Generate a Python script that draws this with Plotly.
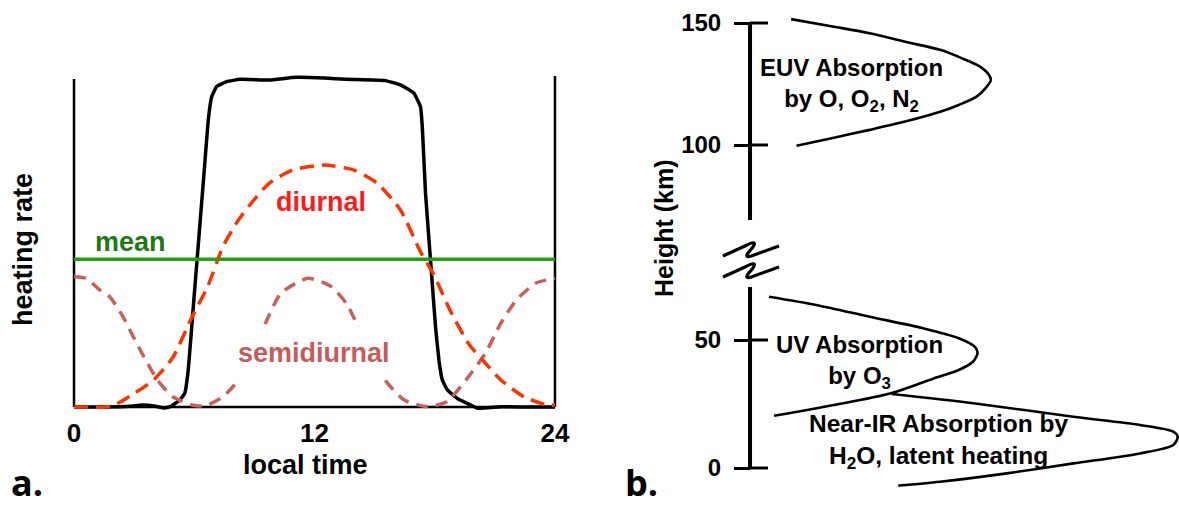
import plotly.graph_objects as go

W, H = 1179, 506

# ---------------- panel a: heating rate vs local time ----------------
hours_total = [0, 1.5, 2.8, 3.4, 4.0, 4.5, 4.8, 5.28, 5.53, 5.70, 5.94, 6.22, 6.50, 6.70,
               6.87, 7.12, 7.62, 8.29, 9.73, 11.09, 12.5, 13.59, 15.54, 16.29, 16.96, 17.29,
               17.38, 17.54, 17.79, 18.04, 18.21, 18.38, 18.63, 19.13, 19.80, 20.15, 21.3,
               22.5, 24]
heat_total = [0.0, 0.0, 0.002, 0.006, 0.003, -0.003, 0.001, 0.021, 0.042, 0.112, 0.294,
              0.506, 0.718, 0.870, 0.940, 0.971, 0.986, 0.993, 0.991, 0.999, 0.997, 0.993,
              0.989, 0.976, 0.951, 0.910, 0.849, 0.648, 0.445, 0.243, 0.142, 0.082, 0.052,
              0.026, 0.006, -0.004, 0.001, 0.0, 0.0]

hours_mean = [0, 24]
heat_mean = [0.448, 0.448]

hours_diurnal = [0, 0.5, 1.85, 3.0, 3.97, 4.93, 5.9, 6.67, 7.43, 8.21, 8.97, 9.74, 10.9,
                 12.44, 13.98, 15.13, 16.29, 17.29, 17.96, 18.79, 19.71, 20.5, 21.3, 22.45,
                 23.6, 24]
heat_diurnal = [0.0, 0.0, 0.002, 0.041, 0.082, 0.15, 0.274, 0.365, 0.486, 0.567, 0.627,
                0.678, 0.718, 0.733, 0.718, 0.678, 0.597, 0.47, 0.40, 0.29, 0.19, 0.135,
                0.082, 0.031, 0.006, 0.006]

hours_semi = [0, 0.61, 1.28, 1.78, 2.44, 2.96, 3.39, 4.16, 4.93, 5.9, 6.3, 6.67, 7.43, 8.21,
              8.9, 9.55, 10.33, 11.67, 12.83, 13.59, 13.98, 14.7, 15.52, 16.48, 17.64, 18.6,
              19.56, 20.53, 21.3, 22.07, 23.03, 24]
heat_semi = [0.395, 0.39, 0.355, 0.334, 0.274, 0.213, 0.163, 0.082, 0.031, 0.006, 0.003,
             0.006, 0.031, 0.082, 0.165, 0.254, 0.345, 0.39, 0.365, 0.314, 0.269, 0.175,
             0.082, 0.021, 0.001, 0.016, 0.082, 0.163, 0.254, 0.324, 0.375, 0.39]

time_ticks = [0, 12, 24]
time_ticktext = ["0", "12", "24"]

# ---------------- panel b: heating profiles vs height ----------------
euv_rate = [0.0958, 0.1956, 0.2788, 0.3618, 0.4450, 0.4946, 0.5361, 0.5571, 0.5613, 0.5487,
            0.5280, 0.4865, 0.4450, 0.3618, 0.2788, 0.1956, 0.1084]
euv_height = [151.6, 148.5, 145.8, 142.3, 138.9, 135.5, 132.1, 128.7, 126.6, 123.2, 119.8,
              116.4, 113.7, 109.6, 106.2, 103.0, 99.7]

uv_rate = [0.0443, 0.1538, 0.2788, 0.4033, 0.4865, 0.5238, 0.5305, 0.5196, 0.4865, 0.4282,
           0.3287, 0.1956, 0.0559]
uv_height = [66.9, 63.7, 59.1, 54.6, 50.7, 47.4, 45.0, 41.5, 38.3, 35.0, 29.2, 24.6, 20.4]

ir_rate = [0.3303, 0.5205, 0.7536, 0.9091, 0.9867, 0.997, 0.9867, 0.9091, 0.7536, 0.5984,
           0.4429, 0.3457]
ir_height = [28.9, 25.3, 20.0, 16.8, 14.2, 12.2, 9.0, 5.7, 1.8, -2.1, -5.4, -6.9]

low_ticks = [0, 50]
high_ticks = [100, 150]
low_span = [0, 70.7]
high_span = [69.3, 150]


def px(x):
    return x / W


def py(y):
    return (H - y) / H


BLACK = "#000000"
GREEN = "#22a014"
GREEN_TXT = "#1d7a12"
RED = "#ff3300"
RED_TXT = "#ff1a1a"
ROSE = "#c8605c"
ROSE_TXT = "#c45c5a"

SANS = "Liberation Sans"

fig = go.Figure()

# panel a traces: total heating first, the components drawn over it
fig.add_trace(go.Scatter(x=hours_total, y=heat_total, mode="lines",
                         line=dict(color=BLACK, width=3.5, shape="spline", smoothing=0.3),
                         xaxis="x", yaxis="y", hoverinfo="skip"))
fig.add_trace(go.Scatter(x=hours_semi, y=heat_semi, mode="lines",
                         line=dict(color=ROSE, width=3.5, dash="12px,8px", shape="spline", smoothing=0.6),
                         xaxis="x", yaxis="y", hoverinfo="skip"))
fig.add_trace(go.Scatter(x=hours_diurnal, y=heat_diurnal, mode="lines",
                         line=dict(color=RED, width=3.5, dash="14px,8px", shape="spline", smoothing=0.6),
                         xaxis="x", yaxis="y", hoverinfo="skip"))
fig.add_trace(go.Scatter(x=hours_mean, y=heat_mean, mode="lines",
                         line=dict(color=GREEN, width=3.5),
                         xaxis="x", yaxis="y", hoverinfo="skip"))

# panel b traces
for rate, height, ax in [(euv_rate, euv_height, "y3"), (uv_rate, uv_height, "y2"),
                         (ir_rate, ir_height, "y2")]:
    fig.add_trace(go.Scatter(x=rate, y=height, mode="lines",
                             line=dict(color=BLACK, width=2.6, shape="spline", smoothing=0.8),
                             xaxis="x2", yaxis=ax, hoverinfo="skip"))

shapes = []
# panel a frame: bottom, left and right edges
shapes.append(dict(type="line", xref="x", yref="y", x0=0, x1=24, y0=0, y1=0,
                   line=dict(color=BLACK, width=2.5), layer="below"))
shapes.append(dict(type="line", xref="x", yref="y", x0=0, x1=0, y0=0, y1=0.994,
                   line=dict(color=BLACK, width=2.5), layer="below"))
shapes.append(dict(type="line", xref="x", yref="y", x0=24, x1=24, y0=0, y1=1.003,
                   line=dict(color=BLACK, width=2.5), layer="below"))

# panel b broken height axis
shapes.append(dict(type="line", xref="x2", yref="y2", x0=0, x1=0, y0=low_span[0], y1=low_span[1],
                   line=dict(color=BLACK, width=4)))
shapes.append(dict(type="line", xref="x2", yref="y3", x0=0, x1=0, y0=high_span[0], y1=high_span[1],
                   line=dict(color=BLACK, width=4)))
for ticks, yref in [(low_ticks, "y2"), (high_ticks, "y3")]:
    for t in ticks:
        shapes.append(dict(type="line", xref="x2", yref=yref, xsizemode="pixel", xanchor=0,
                           x0=0, x1=18, y0=t, y1=t, line=dict(color=BLACK, width=3)))


def pixel_path(cmds):
    out = []
    for c in cmds:
        if isinstance(c, str):
            out.append(c)
        else:
            out.append(f"{px(c[0]):.5f},{py(c[1]):.5f}")
    return " ".join(out)


# axis-break marks
for dy in (0, 21):
    path = pixel_path(["M", (723, 256 + dy), "L", (745, 246 + dy), "Q", (758, 239 + dy),
                       (753, 247 + dy), "L", (748, 253 + dy), "Q", (744, 259 + dy),
                       (754, 255 + dy), "L", (779, 246 + dy)])
    shapes.append(dict(type="path", xref="paper", yref="paper", path=path,
                       line=dict(color=BLACK, width=3.2)))

annotations = []


def label(text, x, y, size, color=BLACK, family=SANS, angle=0, yanchor="middle", **kw):
    annotations.append(dict(text=text, x=px(x), y=py(y), xref="paper", yref="paper",
                            xanchor="center", yanchor=yanchor, showarrow=False, textangle=angle,
                            font=dict(family=family, size=size, color=color, weight="bold"), **kw))


label("heating rate", 23, 250, 27, angle=-90)
label("mean", 130, 242, 27, GREEN_TXT)
label("diurnal", 321, 202, 27, RED_TXT)
label("semidiurnal", 314, 353, 27, ROSE_TXT, bgcolor="white", borderpad=11)
label("local time", 305, 465, 27)
label("a.", 27, 509, 36, family="Open Sans", yanchor="bottom")

label("EUV Absorption<br>by O, O<sub>2</sub>, N<sub>2</sub>", 851, 85, 24)
label("UV Absorption<br>by O<sub>3</sub>", 859, 362, 24)
label("Near-IR Absorption by<br>H<sub>2</sub>O, latent heating", 938, 441, 24.5)
label("Height (km)", 664, 228, 25, angle=-90)
label("b.", 641, 509, 36, family="Open Sans", yanchor="bottom")

height_axis = dict(anchor="free", position=px(750), ticks="outside", ticklen=16, tickwidth=3,
                   tickcolor=BLACK, showline=False, showgrid=False, zeroline=False,
                   tickfont=dict(family=SANS, size=24, color=BLACK, weight="bold"),
                   ticklabelstandoff=8)

fig.update_layout(
    width=W, height=H, margin=dict(l=0, r=0, t=0, b=0),
    paper_bgcolor="white", plot_bgcolor="rgba(0,0,0,0)", showlegend=False,
    xaxis=dict(domain=[px(60), px(572)], range=[-0.699, 24.85], anchor="y",
               showgrid=False, zeroline=False, showline=False, ticks="",
               tickvals=time_ticks, ticktext=time_ticktext,
               tickfont=dict(family=SANS, size=26, color=BLACK, weight="bold"),
               ticklabelstandoff=0),
    yaxis=dict(domain=[py(415), py(70)], range=[-0.0242, 1.0212], anchor="x", visible=False),
    xaxis2=dict(domain=[px(700), 1.0], range=[-0.1166, 1.0], anchor="y2", visible=False,
                showgrid=False, zeroline=False),
    yaxis2=dict(domain=[py(495), py(280)], range=[-10.547, 73.4375], tickvals=low_ticks,
                ticktext=[str(t) for t in low_ticks], **height_axis),
    yaxis3=dict(domain=[py(230), py(10)], range=[65.16, 155.33], tickvals=high_ticks,
                ticktext=[str(t) for t in high_ticks], **height_axis),
    shapes=shapes, annotations=annotations,
)

fig.write_html("out.html")
